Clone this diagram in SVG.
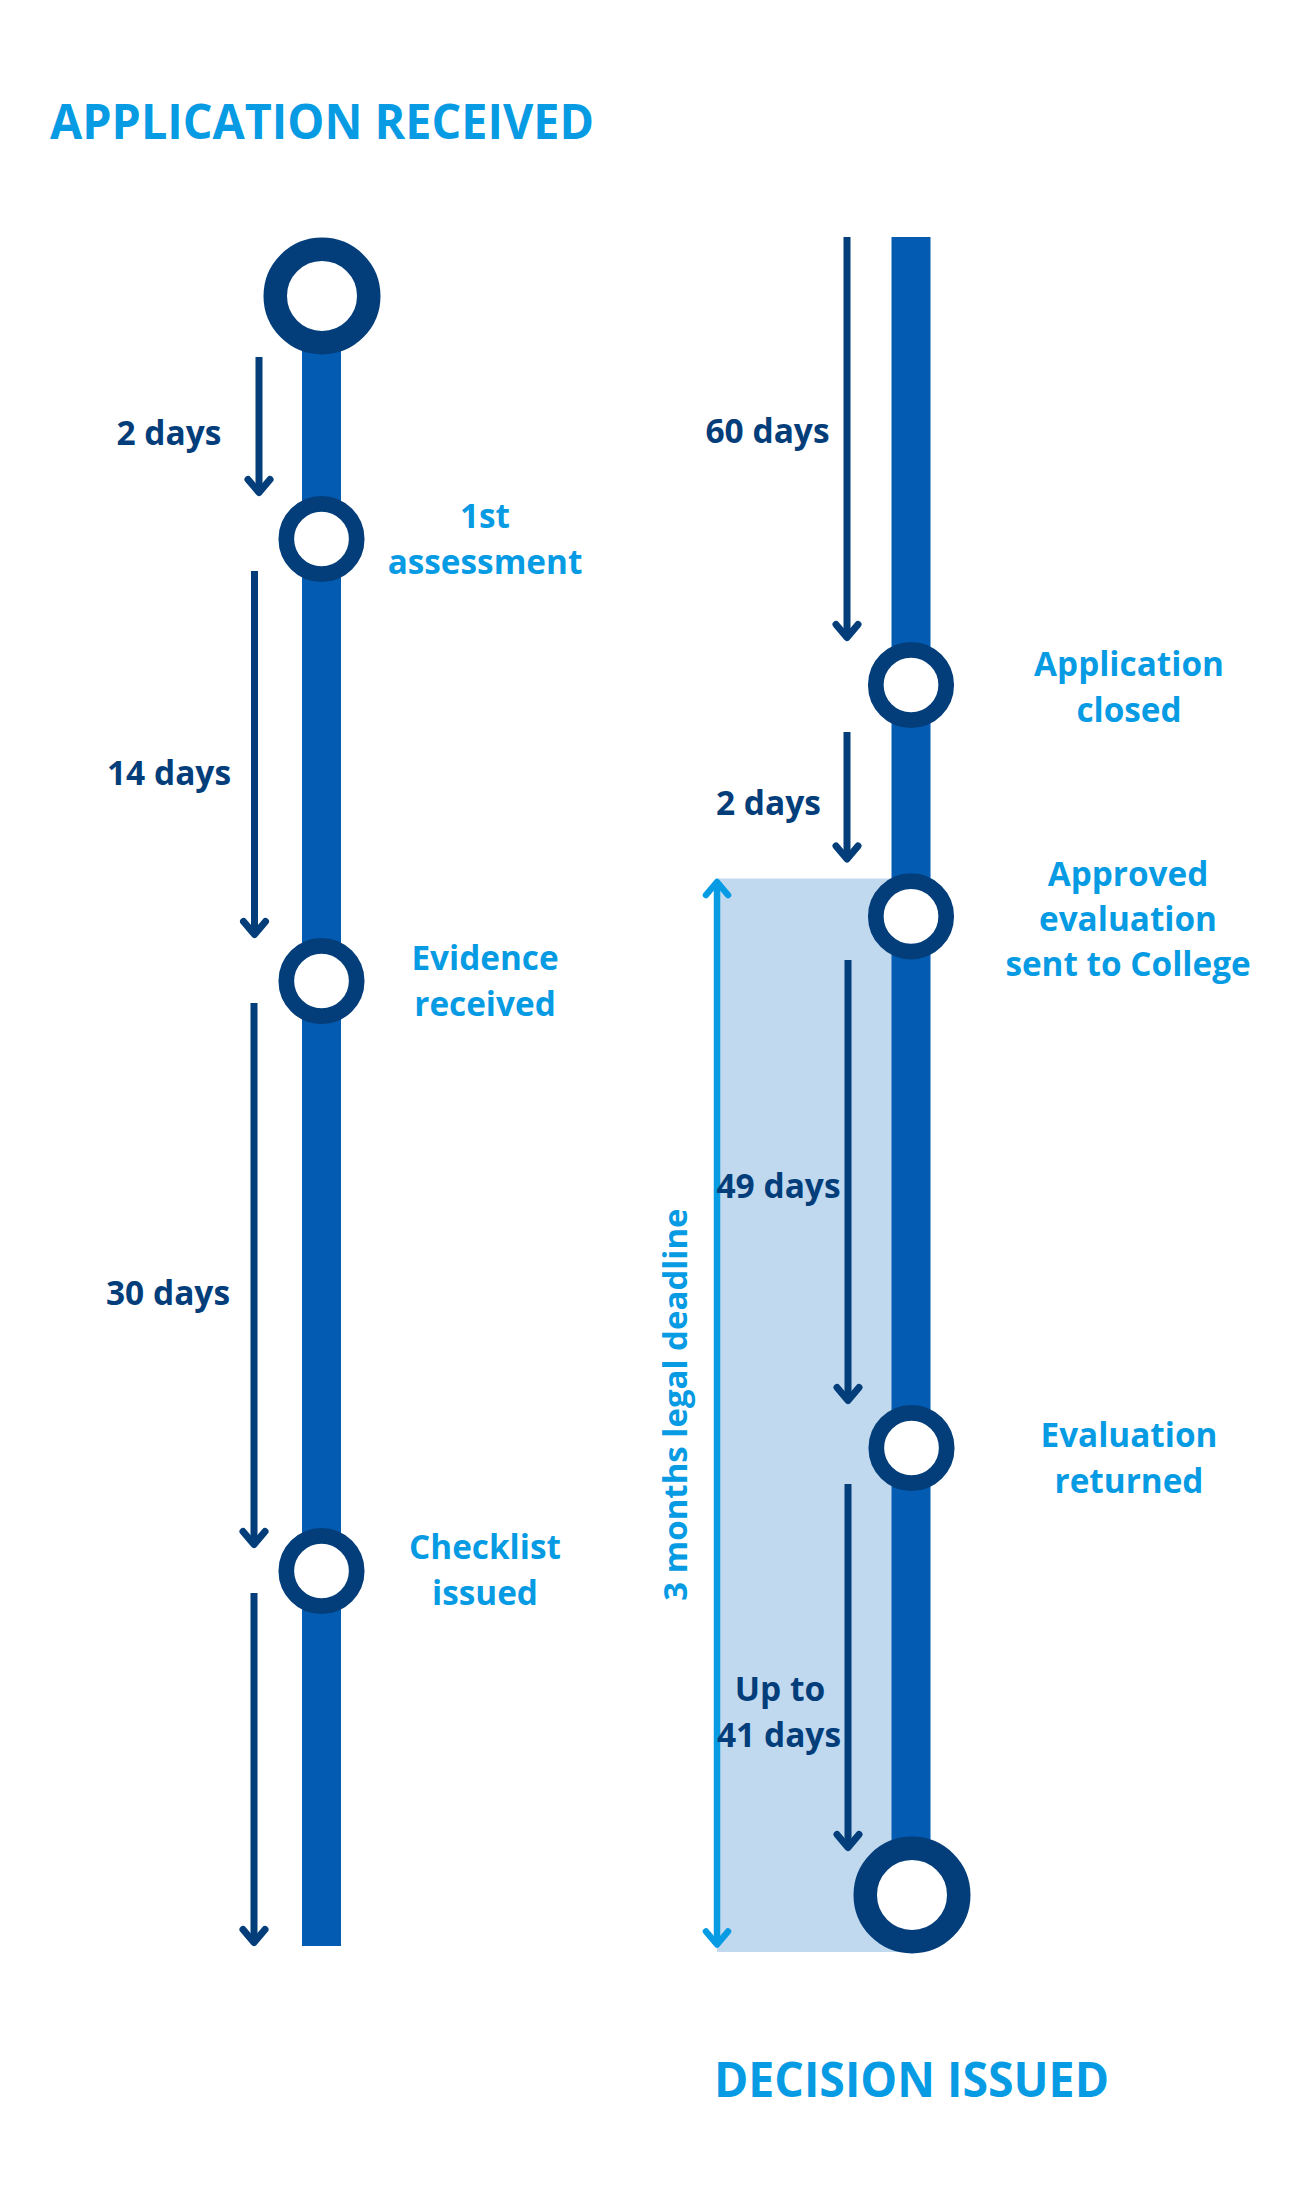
<svg xmlns="http://www.w3.org/2000/svg" width="1300" height="2200" viewBox="0 0 1300 2200">
<style>
.bg{fill:#ffffff}
.bar{fill:#035cb2}
.band{fill:#c0d9ef}
.arr{fill:none;stroke:#033e7b;stroke-width:7;stroke-linecap:round;stroke-linejoin:round}
.arr .shaft{stroke-linecap:butt}
.dbl{fill:none;stroke:#079be4;stroke-width:6.5;stroke-linecap:round;stroke-linejoin:round}
.dbl .shaft{stroke-linecap:butt}
.node{fill:#ffffff;stroke:#033e7b;stroke-width:15.7}
.big{fill:#ffffff;stroke:#033e7b;stroke-width:23.5}
text{font-family:"Open Sans","Noto Sans","Liberation Sans",sans-serif;font-weight:700}
.title{fill:#079be4;font-size:49px}
.lbl{fill:#079be4;font-size:33.3px;text-anchor:middle}
.days{fill:#033e7b;font-size:33.5px;text-anchor:middle}
.dl{fill:#079be4;font-size:33px;text-anchor:middle}
</style>
<rect class="bg" x="0" y="0" width="1300" height="2200"/>
<rect class="band" x="717" y="878.5" width="195" height="1073.5"/>
<rect class="bar" x="302" y="296" width="39" height="1650"/>
<rect class="bar" x="891.5" y="237" width="39" height="1658"/>

<g id="connectors">
  <g class="arr">
    <path class="shaft" d="M259,357 V492.5"/><path d="M248,479.5 L259,492.5 L270,479.5"/>
    <path class="shaft" d="M254.5,571 V934.5"/><path d="M243.5,921.5 L254.5,934.5 L265.5,921.5"/>
    <path class="shaft" d="M254,1003 V1544.5"/><path d="M243,1531.5 L254,1544.5 L265,1531.5"/>
    <path class="shaft" d="M254,1593 V1942.5"/><path d="M243,1929.5 L254,1942.5 L265,1929.5"/>
    <path class="shaft" d="M847,237 V637.5"/><path d="M836,624.5 L847,637.5 L858,624.5"/>
    <path class="shaft" d="M847,732 V859"/><path d="M836,846 L847,859 L858,846"/>
    <path class="shaft" d="M848,960 V1400.5"/><path d="M837,1387.5 L848,1400.5 L859,1387.5"/>
    <path class="shaft" d="M848,1484 V1847.5"/><path d="M837,1834.5 L848,1847.5 L859,1834.5"/>
  </g>
  <g class="dbl">
    <path class="shaft" d="M717,882 V1944.5"/>
    <path d="M706,895 L717,882 L728,895"/>
    <path d="M706,1931.5 L717,1944.5 L728,1931.5"/>
  </g>
</g>

<g id="title-received"><text class="title" x="50" y="139" textLength="544" lengthAdjust="spacingAndGlyphs">APPLICATION RECEIVED</text></g>
<g id="title-decision"><text class="title" x="714" y="2097" textLength="395" lengthAdjust="spacingAndGlyphs">DECISION ISSUED</text></g>

<g id="node-received"><circle class="big" cx="322" cy="296" r="46.75"/></g>
<g id="node-1st"><circle class="node" cx="321.5" cy="539" r="35.2"/>
  <text class="lbl" x="485" y="528">1st</text><text class="lbl" x="485" y="574">assessment</text></g>
<g id="node-evidence"><circle class="node" cx="321.5" cy="981" r="35.2"/>
  <text class="lbl" x="485" y="970">Evidence</text><text class="lbl" x="485" y="1016">received</text></g>
<g id="node-checklist"><circle class="node" cx="321.5" cy="1571" r="35.2"/>
  <text class="lbl" x="485" y="1559">Checklist</text><text class="lbl" x="485" y="1605">issued</text></g>
<g id="node-closed"><circle class="node" cx="911" cy="685" r="35.2"/>
  <text class="lbl" x="1129" y="676">Application</text><text class="lbl" x="1129" y="721.5">closed</text></g>
<g id="node-approved"><circle class="node" cx="911" cy="916.4" r="35.2"/>
  <text class="lbl" x="1128" y="886">Approved</text><text class="lbl" x="1128" y="931">evaluation</text><text class="lbl" x="1128" y="976">sent to College</text></g>
<g id="node-returned"><circle class="node" cx="911.5" cy="1448" r="35.2"/>
  <text class="lbl" x="1129" y="1447">Evaluation</text><text class="lbl" x="1129" y="1493">returned</text></g>
<g id="node-decision"><circle class="big" cx="912" cy="1895" r="46.75"/></g>

<g id="durations">
  <text class="days" x="169" y="445">2 days</text>
  <text class="days" x="169" y="785">14 days</text>
  <text class="days" x="168" y="1305">30 days</text>
  <text class="days" x="767.5" y="443">60 days</text>
  <text class="days" x="768.5" y="815">2 days</text>
  <text class="days" x="778.5" y="1198">49 days</text>
  <text class="days" x="780" y="1701">Up to</text>
  <text class="days" x="779" y="1747">41 days</text>
  <text class="dl" x="687" y="1404.5" transform="rotate(-90 687 1404.5)">3 months legal deadline</text>
</g>
</svg>
